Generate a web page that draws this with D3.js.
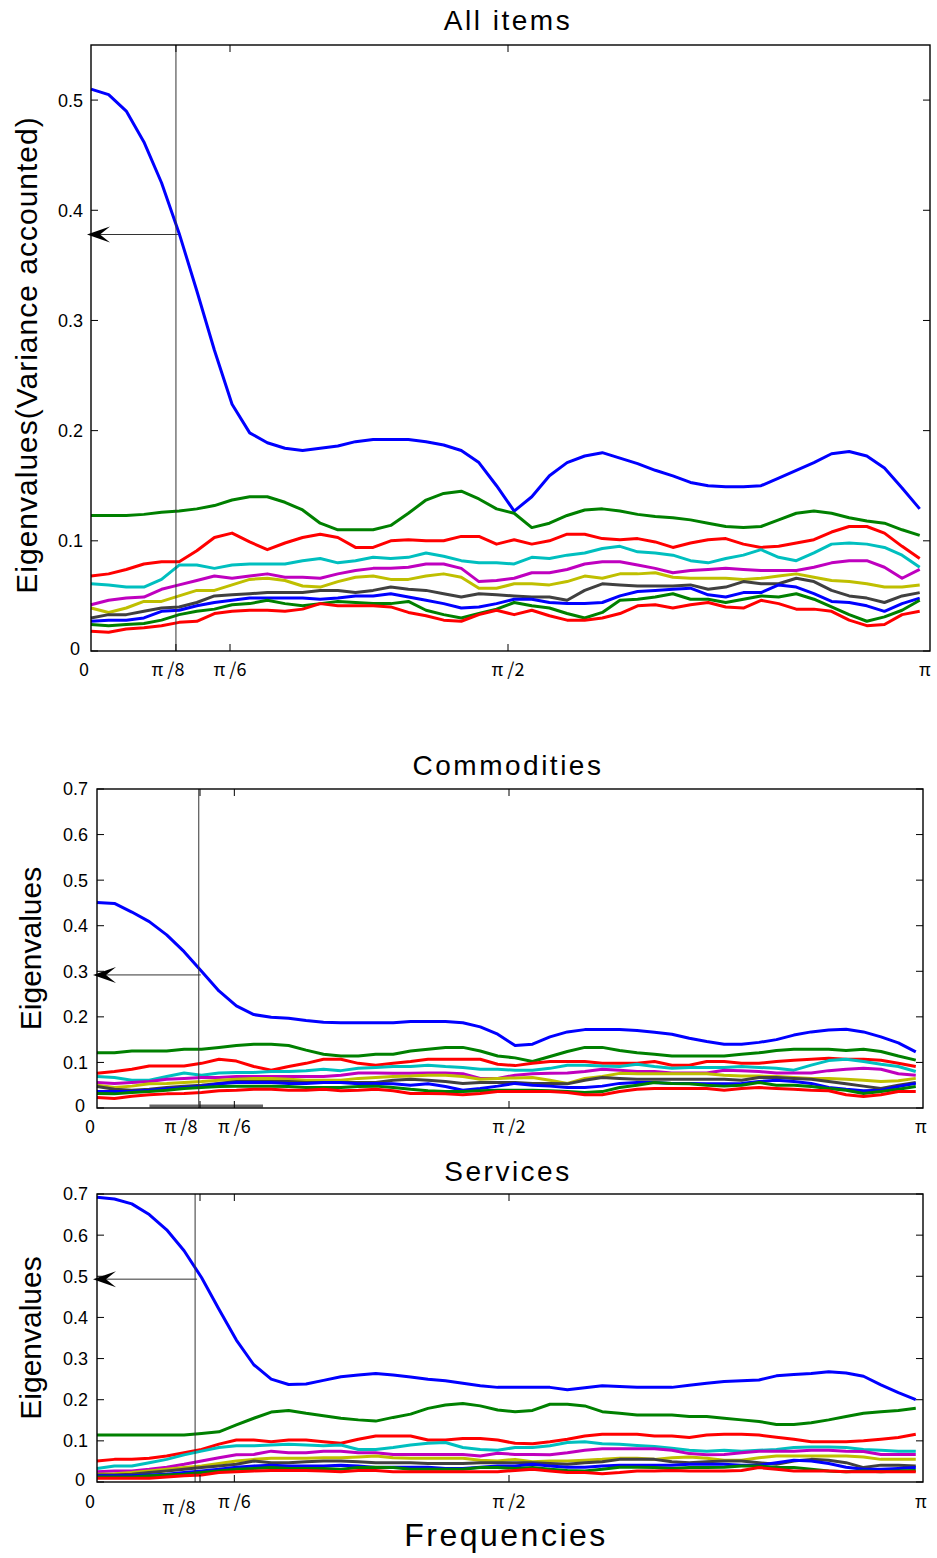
<!DOCTYPE html>
<html>
<head>
<meta charset="utf-8">
<script src="https://cdn.jsdelivr.net/npm/d3@7/dist/d3.min.js"></script>
<style>
body { margin: 0; background: #fff; }
svg { display: block; }
.ytick { font-family: "Liberation Sans", Arial, sans-serif; font-size: 18px; fill: #000; }
.xtick { font-family: "Noto Sans CJK JP", "Liberation Sans", sans-serif; font-size: 18px; fill: #000; }
.title { font-family: "Liberation Sans", Arial, sans-serif; font-size: 28px; letter-spacing: 2.5px; fill: #000; }
.ylab { font-family: "Liberation Sans", Arial, sans-serif; font-size: 30px; fill: #000; }
.xlab { font-family: "Liberation Sans", Arial, sans-serif; font-size: 32px; letter-spacing: 2.5px; fill: #000; }
</style>
</head>
<body>
<svg id="chart" width="937" height="1558"></svg>
<script>
// 10 eigenvalue curves per panel, MATLAB colour order
var seriesColors = ["#0000ff", "#008000", "#ff0000", "#00bfbf", "#bf00bf",
                    "#bfbf00", "#404040", "#0000ff", "#008000", "#ff0000"];

// frequency grid step (48 points from 0 to just under pi)
var freqStep = Math.PI / 47.3;

var allItems = [
  [0.51,0.505,0.49,0.462,0.425,0.379,0.327,0.273,0.224,0.198,0.189,0.184,0.182,0.184,0.186,0.19,0.192,0.192,0.192,0.19,0.187,0.182,0.171,0.15,0.127,0.14,0.159,0.171,0.177,0.18,0.175,0.17,0.164,0.159,0.153,0.15,0.149,0.149,0.15,0.157,0.164,0.171,0.179,0.181,0.177,0.166,0.148,0.129],
  [0.123,0.123,0.123,0.124,0.126,0.127,0.129,0.132,0.137,0.14,0.14,0.135,0.128,0.116,0.11,0.11,0.11,0.114,0.125,0.137,0.143,0.145,0.138,0.129,0.125,0.112,0.116,0.123,0.128,0.129,0.127,0.124,0.122,0.121,0.119,0.116,0.113,0.112,0.113,0.119,0.125,0.127,0.125,0.121,0.118,0.116,0.11,0.105],
  [0.068,0.07,0.074,0.079,0.081,0.081,0.091,0.103,0.107,0.099,0.092,0.098,0.103,0.106,0.103,0.094,0.094,0.1,0.101,0.1,0.1,0.104,0.104,0.097,0.101,0.097,0.1,0.106,0.106,0.102,0.101,0.102,0.099,0.094,0.098,0.101,0.102,0.097,0.094,0.095,0.098,0.101,0.108,0.113,0.113,0.107,0.095,0.084],
  [0.061,0.06,0.058,0.058,0.065,0.078,0.078,0.075,0.078,0.079,0.079,0.079,0.082,0.084,0.08,0.082,0.085,0.084,0.085,0.089,0.086,0.082,0.08,0.08,0.079,0.085,0.084,0.087,0.089,0.093,0.095,0.09,0.089,0.087,0.082,0.08,0.084,0.087,0.092,0.085,0.082,0.089,0.097,0.098,0.097,0.094,0.087,0.076],
  [0.042,0.046,0.048,0.049,0.056,0.06,0.064,0.068,0.066,0.068,0.07,0.067,0.067,0.066,0.07,0.073,0.075,0.075,0.076,0.079,0.079,0.075,0.063,0.064,0.066,0.071,0.071,0.074,0.079,0.081,0.081,0.078,0.075,0.071,0.073,0.074,0.075,0.074,0.073,0.073,0.073,0.076,0.08,0.082,0.082,0.076,0.066,0.074],
  [0.039,0.035,0.039,0.045,0.045,0.05,0.055,0.055,0.06,0.065,0.066,0.064,0.059,0.058,0.063,0.067,0.068,0.065,0.065,0.068,0.07,0.067,0.057,0.057,0.061,0.061,0.06,0.063,0.068,0.066,0.07,0.07,0.071,0.067,0.066,0.066,0.066,0.065,0.066,0.068,0.07,0.067,0.064,0.063,0.061,0.058,0.058,0.06],
  [0.03,0.033,0.033,0.036,0.039,0.04,0.044,0.05,0.051,0.052,0.053,0.053,0.053,0.055,0.055,0.053,0.055,0.058,0.056,0.055,0.052,0.049,0.052,0.051,0.05,0.049,0.049,0.046,0.055,0.061,0.06,0.059,0.059,0.059,0.06,0.056,0.058,0.063,0.061,0.061,0.066,0.063,0.055,0.05,0.048,0.044,0.05,0.053],
  [0.027,0.028,0.028,0.03,0.036,0.037,0.041,0.044,0.046,0.048,0.048,0.048,0.048,0.047,0.048,0.05,0.05,0.052,0.049,0.046,0.043,0.039,0.04,0.043,0.047,0.047,0.044,0.043,0.043,0.044,0.05,0.054,0.055,0.056,0.057,0.051,0.049,0.053,0.053,0.06,0.058,0.052,0.045,0.044,0.041,0.036,0.043,0.048],
  [0.024,0.023,0.024,0.025,0.028,0.033,0.036,0.038,0.042,0.043,0.046,0.043,0.041,0.043,0.045,0.044,0.043,0.043,0.045,0.037,0.033,0.03,0.034,0.038,0.044,0.041,0.039,0.034,0.03,0.035,0.046,0.047,0.049,0.052,0.047,0.047,0.044,0.047,0.05,0.049,0.052,0.047,0.04,0.033,0.027,0.031,0.037,0.046],
  [0.018,0.017,0.02,0.021,0.023,0.026,0.027,0.034,0.036,0.037,0.037,0.036,0.038,0.043,0.041,0.041,0.041,0.04,0.035,0.032,0.028,0.027,0.033,0.037,0.033,0.037,0.032,0.028,0.028,0.03,0.034,0.041,0.042,0.039,0.042,0.044,0.04,0.039,0.046,0.043,0.038,0.038,0.036,0.028,0.023,0.024,0.033,0.036]
];

var commodities = [
  [0.451,0.449,0.43,0.409,0.38,0.343,0.3,0.257,0.224,0.205,0.199,0.197,0.192,0.188,0.187,0.187,0.187,0.187,0.19,0.19,0.19,0.187,0.178,0.162,0.137,0.14,0.156,0.167,0.172,0.172,0.172,0.17,0.166,0.162,0.153,0.146,0.14,0.14,0.144,0.15,0.16,0.167,0.171,0.173,0.167,0.156,0.143,0.123],
  [0.121,0.121,0.125,0.125,0.125,0.129,0.129,0.133,0.137,0.14,0.14,0.137,0.127,0.118,0.114,0.114,0.118,0.118,0.125,0.129,0.133,0.133,0.125,0.114,0.11,0.102,0.113,0.124,0.133,0.133,0.126,0.121,0.118,0.114,0.114,0.114,0.114,0.118,0.121,0.126,0.129,0.129,0.129,0.126,0.129,0.124,0.114,0.105],
  [0.076,0.08,0.085,0.092,0.092,0.092,0.098,0.107,0.103,0.091,0.083,0.091,0.098,0.107,0.107,0.098,0.094,0.098,0.102,0.107,0.107,0.107,0.107,0.096,0.093,0.098,0.102,0.102,0.102,0.098,0.098,0.098,0.102,0.094,0.094,0.102,0.102,0.098,0.098,0.102,0.105,0.107,0.109,0.107,0.107,0.105,0.098,0.091],
  [0.069,0.067,0.061,0.061,0.069,0.077,0.072,0.077,0.078,0.078,0.08,0.08,0.082,0.085,0.082,0.087,0.089,0.091,0.091,0.094,0.091,0.089,0.085,0.085,0.083,0.083,0.087,0.094,0.094,0.092,0.091,0.096,0.091,0.087,0.089,0.089,0.089,0.091,0.089,0.087,0.083,0.094,0.104,0.107,0.102,0.096,0.091,0.08],
  [0.056,0.054,0.056,0.058,0.063,0.065,0.067,0.067,0.069,0.069,0.069,0.069,0.069,0.069,0.072,0.077,0.077,0.076,0.076,0.077,0.077,0.075,0.065,0.065,0.072,0.075,0.076,0.077,0.08,0.085,0.083,0.08,0.08,0.077,0.077,0.077,0.083,0.082,0.08,0.077,0.077,0.077,0.082,0.085,0.087,0.085,0.075,0.072],
  [0.05,0.045,0.048,0.053,0.054,0.056,0.058,0.061,0.063,0.065,0.065,0.063,0.061,0.061,0.061,0.065,0.067,0.069,0.07,0.072,0.072,0.069,0.063,0.065,0.066,0.067,0.061,0.054,0.065,0.069,0.076,0.075,0.075,0.075,0.075,0.075,0.072,0.07,0.07,0.069,0.067,0.065,0.065,0.063,0.061,0.058,0.06,0.065],
  [0.047,0.041,0.039,0.041,0.045,0.048,0.05,0.054,0.058,0.058,0.058,0.058,0.056,0.056,0.056,0.056,0.056,0.061,0.063,0.061,0.058,0.054,0.056,0.056,0.056,0.054,0.054,0.053,0.061,0.067,0.065,0.063,0.063,0.063,0.063,0.063,0.063,0.061,0.067,0.067,0.065,0.063,0.058,0.053,0.048,0.043,0.05,0.056],
  [0.036,0.036,0.037,0.039,0.042,0.045,0.048,0.053,0.056,0.056,0.056,0.054,0.054,0.056,0.056,0.053,0.054,0.053,0.05,0.053,0.047,0.039,0.043,0.048,0.054,0.05,0.048,0.045,0.045,0.048,0.054,0.056,0.056,0.054,0.054,0.053,0.053,0.054,0.058,0.061,0.058,0.054,0.045,0.041,0.038,0.039,0.047,0.054],
  [0.032,0.031,0.034,0.036,0.039,0.043,0.045,0.047,0.048,0.048,0.048,0.047,0.045,0.045,0.045,0.047,0.048,0.045,0.041,0.038,0.036,0.036,0.038,0.039,0.039,0.039,0.038,0.036,0.034,0.036,0.045,0.05,0.056,0.054,0.053,0.05,0.048,0.05,0.056,0.05,0.05,0.047,0.043,0.039,0.032,0.036,0.041,0.047],
  [0.023,0.021,0.026,0.029,0.031,0.032,0.034,0.038,0.039,0.041,0.041,0.039,0.039,0.041,0.038,0.039,0.041,0.038,0.032,0.032,0.031,0.029,0.032,0.036,0.036,0.036,0.036,0.034,0.029,0.029,0.036,0.041,0.043,0.043,0.043,0.043,0.039,0.043,0.045,0.043,0.041,0.039,0.038,0.029,0.025,0.029,0.036,0.036]
];

var services = [
  [0.692,0.688,0.676,0.65,0.613,0.562,0.497,0.42,0.345,0.285,0.25,0.237,0.238,0.247,0.256,0.26,0.264,0.26,0.255,0.25,0.246,0.24,0.234,0.23,0.23,0.23,0.23,0.224,0.229,0.234,0.232,0.23,0.23,0.23,0.235,0.24,0.244,0.246,0.248,0.258,0.261,0.264,0.268,0.265,0.257,0.236,0.217,0.2],
  [0.114,0.114,0.114,0.114,0.114,0.114,0.118,0.122,0.139,0.155,0.17,0.174,0.167,0.161,0.155,0.151,0.148,0.157,0.165,0.179,0.187,0.191,0.185,0.175,0.171,0.174,0.189,0.189,0.185,0.171,0.167,0.163,0.163,0.163,0.159,0.159,0.155,0.151,0.147,0.14,0.14,0.144,0.151,0.159,0.167,0.171,0.174,0.179],
  [0.051,0.055,0.055,0.058,0.063,0.071,0.079,0.092,0.102,0.102,0.098,0.102,0.102,0.098,0.094,0.104,0.112,0.112,0.112,0.102,0.102,0.106,0.106,0.102,0.094,0.093,0.098,0.104,0.112,0.116,0.116,0.116,0.112,0.112,0.108,0.114,0.116,0.116,0.114,0.109,0.104,0.098,0.098,0.098,0.1,0.104,0.108,0.116],
  [0.033,0.039,0.039,0.047,0.055,0.066,0.075,0.084,0.088,0.088,0.09,0.092,0.09,0.088,0.09,0.079,0.079,0.084,0.09,0.094,0.096,0.084,0.079,0.077,0.084,0.084,0.088,0.096,0.098,0.093,0.092,0.089,0.086,0.082,0.077,0.075,0.077,0.075,0.077,0.079,0.084,0.085,0.085,0.084,0.079,0.077,0.075,0.075],
  [0.025,0.027,0.027,0.031,0.036,0.043,0.051,0.059,0.066,0.067,0.075,0.071,0.071,0.075,0.075,0.071,0.071,0.067,0.067,0.067,0.067,0.067,0.063,0.07,0.067,0.067,0.066,0.071,0.077,0.081,0.081,0.081,0.081,0.077,0.069,0.066,0.067,0.071,0.075,0.075,0.075,0.077,0.077,0.075,0.074,0.067,0.067,0.067],
  [0.019,0.02,0.023,0.027,0.031,0.035,0.039,0.045,0.051,0.055,0.058,0.058,0.058,0.059,0.059,0.061,0.063,0.059,0.058,0.058,0.058,0.058,0.053,0.051,0.055,0.049,0.051,0.051,0.053,0.055,0.058,0.058,0.055,0.059,0.061,0.058,0.053,0.053,0.059,0.063,0.063,0.063,0.063,0.063,0.061,0.055,0.055,0.055],
  [0.017,0.017,0.019,0.023,0.027,0.031,0.035,0.039,0.043,0.051,0.047,0.047,0.049,0.051,0.051,0.049,0.047,0.047,0.047,0.045,0.045,0.045,0.047,0.047,0.047,0.047,0.045,0.043,0.047,0.049,0.055,0.055,0.055,0.049,0.047,0.049,0.051,0.051,0.047,0.043,0.051,0.055,0.053,0.047,0.035,0.041,0.041,0.039],
  [0.015,0.015,0.015,0.017,0.019,0.023,0.027,0.031,0.036,0.039,0.041,0.039,0.039,0.039,0.041,0.039,0.035,0.036,0.036,0.036,0.033,0.033,0.036,0.039,0.039,0.043,0.039,0.036,0.036,0.039,0.041,0.041,0.041,0.041,0.043,0.043,0.043,0.041,0.041,0.047,0.053,0.051,0.045,0.036,0.031,0.031,0.033,0.035],
  [0.012,0.012,0.012,0.015,0.017,0.019,0.023,0.027,0.031,0.033,0.035,0.033,0.033,0.033,0.031,0.035,0.036,0.035,0.031,0.031,0.031,0.031,0.035,0.035,0.033,0.035,0.031,0.028,0.027,0.031,0.036,0.036,0.035,0.033,0.035,0.035,0.036,0.039,0.039,0.035,0.035,0.031,0.027,0.025,0.027,0.025,0.027,0.028],
  [0.009,0.009,0.009,0.009,0.012,0.015,0.017,0.023,0.025,0.027,0.028,0.028,0.028,0.027,0.025,0.028,0.028,0.025,0.025,0.025,0.025,0.025,0.025,0.025,0.028,0.031,0.027,0.023,0.023,0.02,0.023,0.027,0.027,0.028,0.027,0.027,0.027,0.028,0.035,0.031,0.027,0.027,0.027,0.025,0.025,0.025,0.025,0.025]
];

var yTicksAll = [0, 0.1, 0.2, 0.3, 0.4, 0.5];
var yTicksSub = [0, 0.1, 0.2, 0.3, 0.4, 0.5, 0.6, 0.7];
var xTickLabels = ["0", "π /8", "π /6", "π /2", "π"];

// marked cut-off frequency (vertical line) and the eigenvalue it points to (arrow)
var cutFreqs = [0.32, 0.388, 0.374];
var cutValues = [0.378, 0.292, 0.493];
// where the "pi/8" tick sits in each panel
var p8Ticks = [0.32, Math.PI / 8, Math.PI / 8];

var panels = [
  {data: allItems, title: "All items", titleY: 30, ylabel: "Eigenvalues(Variance accounted)", ylabLs: 1,
   ylabX: 37, left: 91, right: 930, top: 45, bottom: 651, piX: 925, yMax: 0.55, yTicks: yTicksAll,
   yLabEnd: 83, xLabY: 676, p8dx: -8, p8dy: 0, zeroDx: -7},
  {data: commodities, title: "Commodities", titleY: 775, ylabel: "Eigenvalues", ylabLs: 0,
   ylabX: 41, left: 97, right: 923, top: 789, bottom: 1108, piX: 921, yMax: 0.7, yTicks: yTicksSub,
   yLabEnd: 88, xLabY: 1133, p8dx: -19, p8dy: 0, zeroDx: -7, bar: [0.2, 0.633]},
  {data: services, title: "Services", titleY: 1181, ylabel: "Eigenvalues", ylabLs: 0,
   ylabX: 41, left: 97, right: 923, top: 1194, bottom: 1482, piX: 921, yMax: 0.7, yTicks: yTicksSub,
   yLabEnd: 88, xLabY: 1508, p8dx: -21, p8dy: 6, zeroDx: -7}
];

var svg = d3.select("#chart");
svg.append("rect").attr("width", 937).attr("height", 1558).attr("fill", "#fff");

function drawPanel(p, i) {
  var x = d3.scaleLinear().domain([0, Math.PI]).range([p.left, p.piX]);
  var y = d3.scaleLinear().domain([0, p.yMax]).range([p.bottom, p.top]);
  var g = svg.append("g");

  // curves
  var line = d3.line()
    .x(function (d, k) { return x(k * freqStep); })
    .y(function (d) { return y(d); });

  g.selectAll("path.curve")
    .data(p.data)
    .enter()
    .append("path")
    .attr("class", "curve")
    .attr("d", function (d) { return line(d); })
    .attr("fill", "none")
    .attr("stroke", function (d, j) { return seriesColors[j]; })
    .attr("stroke-width", 3)
    .attr("stroke-linejoin", "round");

  // grey strip along the bottom axis (commodities only)
  if (p.bar) {
    g.append("line")
      .attr("x1", x(p.bar[0])).attr("x2", x(p.bar[1]))
      .attr("y1", p.bottom - 2).attr("y2", p.bottom - 2)
      .attr("stroke", "#666").attr("stroke-width", 3);
  }

  // cut-off line and arrow
  var cx = x(cutFreqs[i]);
  var cy = y(cutValues[i]);
  g.append("line")
    .attr("x1", cx).attr("x2", cx).attr("y1", p.top).attr("y2", p.bottom)
    .attr("stroke", "#333").attr("stroke-width", 1);
  g.append("line")
    .attr("x1", cx + 2).attr("x2", p.left + 8).attr("y1", cy).attr("y2", cy)
    .attr("stroke", "#333").attr("stroke-width", 1);
  var tip = p.left - 4;
  g.append("path")
    .attr("d", "M" + tip + "," + cy + "L" + (tip + 23) + "," + (cy - 8) +
               "L" + (tip + 13) + "," + cy + "L" + (tip + 23) + "," + (cy + 8) + "Z")
    .attr("fill", "#000");

  // box
  g.append("rect")
    .attr("x", p.left).attr("y", p.top)
    .attr("width", p.right - p.left).attr("height", p.bottom - p.top)
    .attr("fill", "none").attr("stroke", "#000").attr("stroke-width", 1.4);

  // y ticks, both sides, pointing inward
  p.yTicks.forEach(function (v) {
    g.append("line").attr("x1", p.left).attr("x2", p.left + 7)
      .attr("y1", y(v)).attr("y2", y(v)).attr("stroke", "#000");
    g.append("line").attr("x1", p.right).attr("x2", p.right - 7)
      .attr("y1", y(v)).attr("y2", y(v)).attr("stroke", "#000");
    g.append("text")
      .attr("class", "ytick")
      .attr("x", p.yLabEnd - (v === 0 ? 3 : 0)).attr("y", y(v) - (v === 0 ? 2 : 0)).attr("dy", "0.36em")
      .attr("text-anchor", "end")
      .text(v === 0 ? "0" : v.toFixed(1));
  });

  // x ticks, top and bottom
  var xTickVals = [p8Ticks[i], Math.PI / 6, Math.PI / 2];
  xTickVals.forEach(function (v) {
    g.append("line").attr("x1", x(v)).attr("x2", x(v))
      .attr("y1", p.bottom).attr("y2", p.bottom - 7).attr("stroke", "#000");
    g.append("line").attr("x1", x(v)).attr("x2", x(v))
      .attr("y1", p.top).attr("y2", p.top + 7).attr("stroke", "#000");
  });

  var labelVals = [0, Math.PI / 8, Math.PI / 6, Math.PI / 2, Math.PI];
  labelVals.forEach(function (v, j) {
    var dx = 0, dy = 0;
    if (j === 0) dx = p.zeroDx;
    if (j === 1) { dx = p.p8dx + x(p8Ticks[i]) - x(v); dy = p.p8dy; }
    g.append("text")
      .attr("class", "xtick")
      .attr("x", x(v) + dx).attr("y", p.xLabY + dy)
      .attr("text-anchor", "middle")
      .text(xTickLabels[j]);
  });

  // title and y label
  g.append("text")
    .attr("class", "title")
    .attr("x", 508).attr("y", p.titleY)
    .attr("text-anchor", "middle")
    .text(p.title);

  var ymid = (p.top + p.bottom) / 2 + (i === 0 ? 7 : 0);
  g.append("text")
    .attr("class", "ylab")
    .attr("transform", "translate(" + p.ylabX + "," + ymid + ") rotate(-90)")
    .attr("text-anchor", "middle")
    .style("letter-spacing", p.ylabLs + "px")
    .text(p.ylabel);
}

panels.forEach(drawPanel);

svg.append("text")
  .attr("class", "xlab")
  .attr("x", 506).attr("y", 1546)
  .attr("text-anchor", "middle")
  .text("Frequencies");
</script>
</body>
</html>
